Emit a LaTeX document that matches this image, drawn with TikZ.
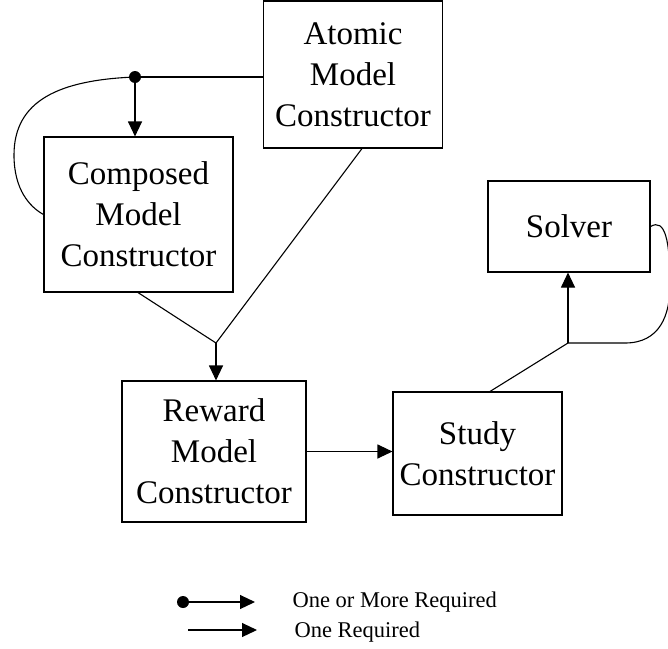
\documentclass[tikz,border=0pt]{standalone}
\usepackage{fontspec}
\setmainfont{Liberation Serif}
\usetikzlibrary{arrows.meta}
\begin{document}
\begin{tikzpicture}[x=1pt,y=-1pt,
  box/.style={draw,line width=1.1pt,inner sep=0pt,align=center,
    font=\fontsize{33}{41}\selectfont},
  conn/.style={line width=1.1pt},
  arr/.style={conn,-{Triangle[length=15pt,width=14pt]}},
  legendtext/.style={anchor=west,font=\fontsize{22.5}{26}\selectfont}]
\useasboundingbox (0,0) rectangle (668,648);

% constructor boxes
\node[box,minimum width=179pt,minimum height=147pt] (atomic) at (353,74.5) {Atomic\\Model\\Constructor};
\node[box,minimum width=189pt,minimum height=155pt] (composed) at (138.5,214.5) {Composed\\Model\\Constructor};
\node[box,minimum width=162pt,minimum height=91pt] (solver) at (569,226.5) {Solver};
\node[box,minimum width=184pt,minimum height=141pt] (reward) at (214,451.5) {Reward\\Model\\Constructor};
\node[box,minimum width=169pt,minimum height=123pt] (study) at (477.5,453.5) {Study\\Constructor};

% junction points
\coordinate (dot) at (135,77);
\coordinate (join) at (216,343);
\coordinate (split) at (568,343);

% atomic -> composed (one or more)
\draw[conn] (atomic.west |- dot) -- (dot);
\fill (dot) circle (6pt);
\draw[arr] (dot) -- (dot |- composed.north);
\draw[conn] (dot) .. controls (60,80) and (14,100) .. (14,155)
  .. controls (14,190) and (30,207) .. (composed.west);

% composed and atomic -> reward
\draw[conn] (composed.south -| 138,0) -- (join);
\draw[conn] (atomic.south -| 362,0) -- (join);
\draw[arr] (join) -- (join |- reward.north);

% reward -> study
\draw[arr] (reward.east) -- (reward.east -| study.west);

% study -> solver (one or more)
\draw[conn] (study.north -| 490,0) -- (split);
\draw[arr] (split) -- (split |- solver.south);
\draw[conn] (split) -- (625,343) .. controls (660,343) and (670,315) .. (670,285)
  .. controls (670,240) and (665,218) .. (solver.east);

% legend
\coordinate (l1a) at (183,602);
\coordinate (l1b) at (255,602);
\coordinate (l2a) at (188,630);
\coordinate (l2b) at (257,630);
\fill (l1a) circle (6pt);
\draw[arr] (l1a) -- (l1b);
\draw[arr] (l2a) -- (l2b);
\node[legendtext] (t1) at (289,602) {One or More Required};
\node[legendtext] (t2) at (291,632) {One Required};
\end{tikzpicture}
\end{document}
